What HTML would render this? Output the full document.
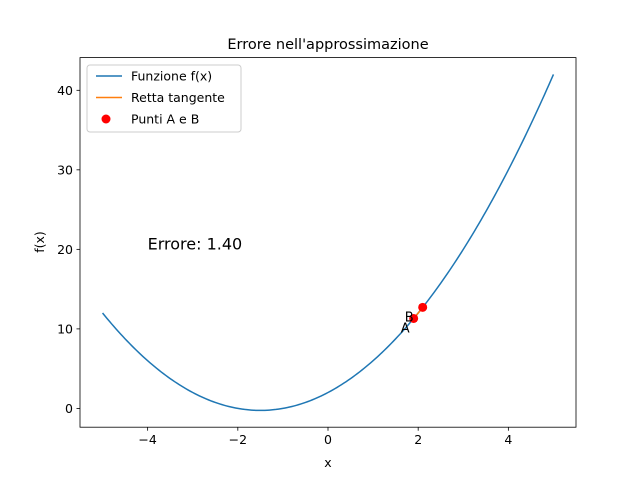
<!DOCTYPE html>
<html><head><meta charset="utf-8"><style>
body{margin:0;background:#fff;font-family:"Liberation Sans","DejaVu Sans",sans-serif;}
svg text{font-family:"DejaVu Sans","Liberation Sans",sans-serif;}
</style></head><body>
<svg id="c" width="640" height="480" xmlns="http://www.w3.org/2000/svg"></svg>
<script>
const xTicks=[-4,-2,0,2,4];
const yTicks=[0,10,20,30,40];
const coeffs=[1,3,2];
const xDomain=[-5,5];
const pointXs=[1.9,2.1];
const pointLabels=["A","B"];
const errorText="Errore: 1.40";
const L=80,R=576,T=57.6,B=427.2;
const xmin=-5.5,xmax=5.5,ymin=-2.3625,ymax=44.1125;
const sx=x=>L+(x-xmin)/(xmax-xmin)*(R-L);
const sy=y=>B-(y-ymin)/(ymax-ymin)*(B-T);
const f=x=>coeffs[0]*x*x+coeffs[1]*x+coeffs[2];
const svg=document.getElementById('c');
const NS="http://www.w3.org/2000/svg";
function mk(t,a,p){const e=document.createElementNS(NS,t);for(const k in a)e.setAttribute(k,a[k]);(p||svg).appendChild(e);return e;}
let e;
e=mk('text',{x:328,y:49,'text-anchor':'middle','font-size':14.5});e.textContent="Errore nell'approssimazione";


let d="";for(let i=0;i<=200;i++){const x=xDomain[0]+(xDomain[1]-xDomain[0])*i/200;d+=(i?"L":"M")+sx(x).toFixed(2)+","+sy(f(x)).toFixed(2);}
e=mk('path',{d:d,fill:'none',stroke:'#1f77b4','stroke-width':1.5});


const x0=pointXs[0],slope=2*coeffs[0]*x0+coeffs[1];
e=mk('line',{x1:sx(pointXs[0]),y1:sy(f(x0)),x2:sx(pointXs[1]),y2:sy(f(x0)+slope*(pointXs[1]-x0)),stroke:'#ff7f0e','stroke-width':1.5});


pointXs.forEach((x,i)=>{
 e=mk('circle',{cx:sx(x),cy:sy(f(x)),r:4.5,fill:'red'});
 
 
 e=mk('text',{x:sx(x)-(i?9:4),y:sy(f(x))+(i?14:14),'text-anchor':'end','font-size':13});e.textContent=pointLabels[i];
 
 
});
e=mk('text',{x:sx(-4),y:sy(20)+0,'font-size':16});e.textContent=errorText;


e=mk('rect',{x:L,y:T,width:R-L,height:B-T,fill:'none',stroke:'#000','stroke-width':0.8});


xTicks.forEach(t=>{mk('line',{x1:sx(t),x2:sx(t),y1:B,y2:B+3.5,stroke:'#000','stroke-width':0.8});
 e=mk('text',{x:sx(t),y:B+17,'text-anchor':'middle','font-size':12.5});e.textContent=(t<0?"\u2212"+(-t):t);
 
 });
yTicks.forEach(t=>{mk('line',{x1:L,x2:L-3.5,y1:sy(t),y2:sy(t),stroke:'#000','stroke-width':0.8});
 e=mk('text',{x:L-7,y:sy(t)+4.5,'text-anchor':'end','font-size':12.5});e.textContent=t;
 
 });
e=mk('text',{x:328,y:467,'text-anchor':'middle','font-size':12.5});e.textContent="x";


e=mk('text',{x:44,y:242,'text-anchor':'middle','font-size':12.5,transform:'rotate(-90 44 242)'});e.textContent="f(x)";


const lg=mk('g',{});


mk('rect',{x:87,y:65,width:154,height:67,rx:3,fill:'#fff',stroke:'#ccc'},lg);
[["line","#1f77b4","Funzione f(x)"],["line","#ff7f0e","Retta tangente"],["dot","red","Punti A e B"]].forEach((r,i)=>{
 const y=76+i*21.5;
 if(r[0]=="line")mk('line',{x1:96,x2:122,y1:y,y2:y,stroke:r[1],'stroke-width':1.5},lg);
 else mk('circle',{cx:106,cy:y,r:4.5,fill:r[1]},lg);
 e=mk('text',{x:131,y:y+4.5,'font-size':12.5},lg);e.textContent=r[2];
 
 
});
</script>
</body></html>
